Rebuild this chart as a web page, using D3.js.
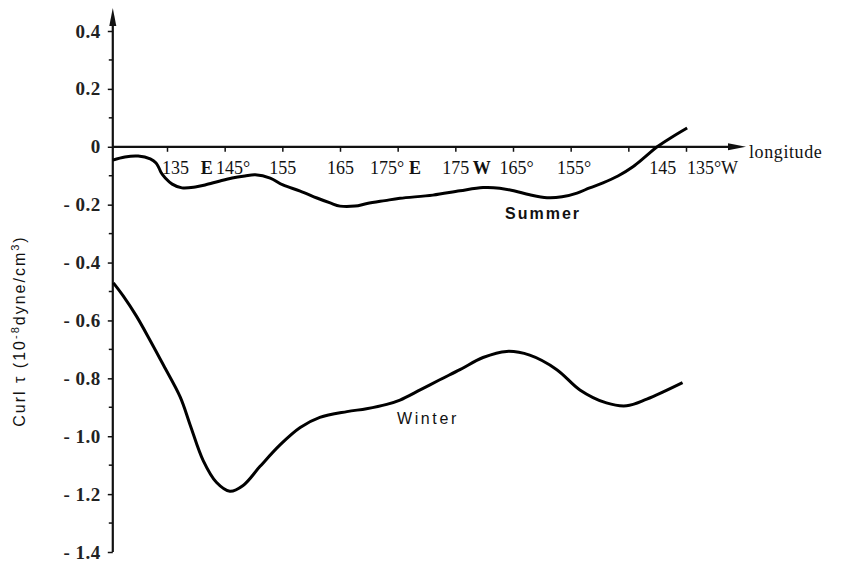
<!DOCTYPE html>
<html>
<head>
<meta charset="utf-8">
<script src="https://cdn.jsdelivr.net/npm/d3@7"></script>
<style>
  body { margin: 0; background: #fff; }
  text { fill: #111; }
</style>
</head>
<body>
<svg width="847" height="564"></svg>
<script>
// longitude ticks are given in degrees east (135W = 225E)
const lonTicks = [135, 145, 155, 165, 175, 185, 195, 205, 215, 225];
const lonLabels = ["135", "145°", "155", "165", "175°", "175", "165°", "155°", "145", "135°W"];
const hemiLabels = ["E", "E", "W"];
const hemiLon = [141.9, 178.0, 189.6];

const yTicks = [0.4, 0.2, 0, -0.2, -0.4, -0.6, -0.8, -1.0, -1.2, -1.4];
const yLabels = ["0.4", "0.2", "0", "- 0.2", "- 0.4", "- 0.6", "- 0.8", "- 1.0", "- 1.2", "- 1.4"];
const yMinor = [0.3, 0.1, -0.1, -0.3, -0.5, -0.7, -0.9, -1.1, -1.3];

const summerLon = [125.6, 127.7, 130.0, 132.1, 133.1, 133.6, 134.0, 134.7, 135.9, 137.6, 139.9, 141.6,
  144.2, 146.3, 148.5, 150.3, 152.9, 155.1, 158.1, 161.0, 163.3, 165.0, 167.6, 169.7, 172.8, 175.4,
  181.1, 185.8, 189.8, 192.7, 195.3, 197.9, 200.9, 203.5, 206.1, 208.3, 210.6, 213.2, 215.8, 217.9,
  220.0, 222.6, 225.2];
const summerVal = [-0.046, -0.035, -0.032, -0.042, -0.056, -0.073, -0.09, -0.108, -0.129, -0.142, -0.139, -0.132,
  -0.118, -0.108, -0.101, -0.097, -0.108, -0.132, -0.153, -0.177, -0.194, -0.205, -0.205, -0.196, -0.186, -0.178,
  -0.167, -0.152, -0.141, -0.143, -0.153, -0.166, -0.176, -0.173, -0.160, -0.142, -0.125, -0.101, -0.069, -0.035,
  0.0, 0.034, 0.065];

const winterLon = [125.7, 127.4, 129.7, 132.1, 134.4, 137.3, 139.0, 141.3, 143.6, 145.9, 148.2, 151.1,
  154.6, 158.1, 161.5, 166.2, 169.6, 173.1, 175.4, 178.9, 182.3, 185.8, 189.8, 193.9, 197.9, 202.6,
  206.6, 211.2, 214.7, 218.2, 224.4];
const winterVal = [-0.47, -0.515, -0.585, -0.67, -0.755, -0.865, -0.96, -1.085, -1.16, -1.19, -1.17, -1.105,
  -1.03, -0.97, -0.935, -0.915, -0.905, -0.89, -0.875, -0.84, -0.805, -0.77, -0.728, -0.707, -0.72, -0.77,
  -0.84, -0.885, -0.895, -0.872, -0.815];

const lonStart = 125.6; // where the y axis sits

const svg = d3.select('svg');
const serif = "'Liberation Serif', 'Times New Roman', serif";
const sans = "'Liberation Sans', Arial, sans-serif";

const x = d3.scaleLinear().domain([135, 225]).range([167, 686]);
const y = d3.scaleLinear().domain([-1.4, 0.4]).range([552, 31]);

const x0 = x(lonStart);
const y0 = y(0);

// axes lines with arrows
svg.append('line').attr('x1', x0).attr('x2', x0).attr('y1', y(-1.4)).attr('y2', 20)
  .attr('stroke', '#111').attr('stroke-width', 2.2);
svg.append('path').attr('d', `M${x0},8 L${x0 - 3.5},26 L${x0 + 3.5},26 Z`).attr('fill', '#111');

svg.append('line').attr('x1', x0).attr('x2', 735).attr('y1', y0).attr('y2', y0)
  .attr('stroke', '#111').attr('stroke-width', 2.2);
svg.append('path').attr('d', `M746,${y0} L728,${y0 - 3.5} L728,${y0 + 3.5} Z`).attr('fill', '#111');

// y ticks
const yAxis = d3.axisLeft(y).tickValues(yTicks).tickSize(5)
  .tickFormat((d, i) => yLabels[i]);
const gy = svg.append('g').attr('transform', `translate(${x0},0)`).call(yAxis);
gy.select('.domain').remove();
gy.selectAll('.tick line').attr('stroke', '#111').attr('stroke-width', 1.5);
gy.selectAll('.tick text')
  .attr('x', -12)
  .style('font-family', serif).style('font-size', '19px').style('font-weight', 'bold')
  .style('letter-spacing', '0.5px')
  .style('fill', '#222');

svg.append('g').selectAll('line').data(yMinor).enter().append('line')
  .attr('x1', x0 - 4).attr('x2', x0).attr('y1', d => y(d)).attr('y2', d => y(d))
  .attr('stroke', '#111').attr('stroke-width', 1.5);

// x ticks
const xAxis = d3.axisBottom(x).tickValues(lonTicks).tickSize(5)
  .tickFormat((d, i) => lonLabels[i]);
const gx = svg.append('g').attr('transform', `translate(0,${y0})`).call(xAxis);
gx.select('.domain').remove();
gx.selectAll('.tick line').attr('stroke', '#111').attr('stroke-width', 1.5);
const labelShift = [8, 8, 0, 0, -11, 0, 3, 3, 34, 26];
gx.selectAll('.tick text')
  .attr('y', 14)
  .attr('dx', (d, i) => labelShift[i])
  .style('font-family', serif).style('font-size', '18px')
  .style('fill', '#111');

svg.append('g').selectAll('text').data(hemiLabels).enter().append('text')
  .attr('x', (d, i) => x(hemiLon[i]))
  .attr('y', y0 + 27)
  .attr('text-anchor', 'middle')
  .style('font-family', serif).style('font-size', '18px').style('font-weight', 'bold')
  .text(d => d);

svg.append('text').attr('x', 749).attr('y', y0 + 11)
  .style('font-family', serif).style('font-size', '18px').style('letter-spacing', '0.6px')
  .text('longitude');

// curves
const line = d3.line()
  .x(d => x(d[0]))
  .y(d => y(d[1]))
  .curve(d3.curveCatmullRom.alpha(0.5));

const summer = summerLon.map((d, i) => [d, summerVal[i]]);
const winter = winterLon.map((d, i) => [d, winterVal[i]]);

svg.append('path').datum(summer).attr('d', line)
  .attr('fill', 'none').attr('stroke', '#000').attr('stroke-width', 3);
svg.append('path').datum(winter).attr('d', line)
  .attr('fill', 'none').attr('stroke', '#000').attr('stroke-width', 3);

svg.append('text').attr('x', 505).attr('y', 219)
  .style('font-family', sans).style('font-size', '16px').style('font-weight', 'bold')
  .style('letter-spacing', '2px')
  .text('Summer');
svg.append('text').attr('x', 397).attr('y', 424)
  .style('font-family', sans).style('font-size', '16px')
  .style('letter-spacing', '2.6px')
  .text('Winter');

// y title
const title = svg.append('text')
  .attr('transform', 'translate(25,331) rotate(-90)')
  .attr('text-anchor', 'middle')
  .style('font-family', sans).style('font-size', '16px').style('letter-spacing', '2px');
title.append('tspan').text('Curl τ (10');
title.append('tspan').attr('dy', -6).style('font-size', '11px').text('-8');
title.append('tspan').attr('dy', 6).text('dyne/cm');
title.append('tspan').attr('dy', -6).style('font-size', '11px').text('3');
title.append('tspan').attr('dy', 6).text(')');
</script>
</body>
</html>
